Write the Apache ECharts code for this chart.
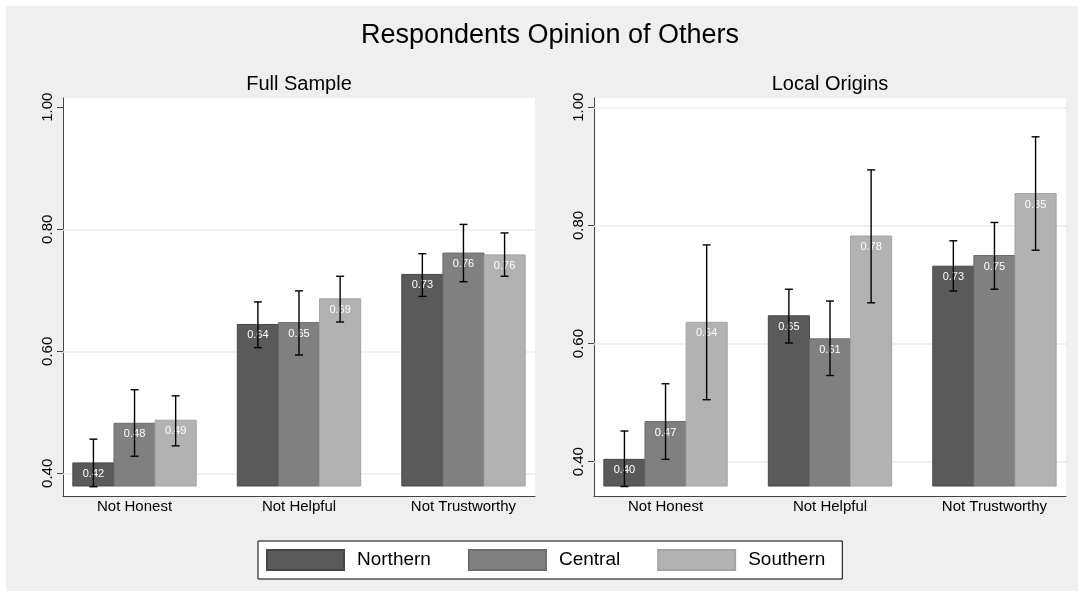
<!DOCTYPE html>
<html><head><meta charset="utf-8">
<script src="https://cdn.jsdelivr.net/npm/echarts@6/dist/echarts.min.js"></script>
<style>
html,body{margin:0;padding:0;background:#fff;}
#bg{position:absolute;left:6px;top:6px;width:1072px;height:585px;background:#efefef;}
#chart{position:absolute;left:0;top:0;width:1084px;height:595px;}
</style></head><body>
<div id="bg"></div><div id="chart"></div>
<script>
// ---- data ----
const chartTitle = 'Respondents Opinion of Others';
const panelTitles = ['Full Sample', 'Local Origins'];
const categories = ['Not Honest', 'Not Helpful', 'Not Trustworthy'];
const regions = ['Northern', 'Central', 'Southern'];
const yTickValues = [0.40, 0.60, 0.80, 1.00];

// Full Sample: means per category
const fullNorthern = [0.417, 0.644, 0.726];
const fullCentral  = [0.482, 0.647, 0.761];
const fullSouthern = [0.487, 0.686, 0.758];
// Full Sample: confidence intervals [low, high]
const fullNorthernCI = [[0.378, 0.456], [0.606, 0.681], [0.690, 0.760]];
const fullCentralCI  = [[0.428, 0.537], [0.594, 0.699], [0.714, 0.808]];
const fullSouthernCI = [[0.445, 0.527], [0.648, 0.723], [0.723, 0.794]];

// Local Origins
const localNorthern = [0.404, 0.647, 0.731];
const localCentral  = [0.468, 0.608, 0.749];
const localSouthern = [0.636, 0.782, 0.854];
const localNorthernCI = [[0.358, 0.452], [0.601, 0.692], [0.689, 0.774]];
const localCentralCI  = [[0.404, 0.532], [0.546, 0.672], [0.692, 0.805]];
const localSouthernCI = [[0.505, 0.767], [0.669, 0.894], [0.758, 0.950]];

// ---- styling ----
const FONT = '"Liberation Sans", Arial, Helvetica, sans-serif';
const fills = ['#5a5a5a', '#808080', '#b2b2b2'];
const strokes = ['#464646', '#6c6c6c', '#a3a3a3'];
const BAR_W = 0.25;

const panels = [
  { means: [fullNorthern, fullCentral, fullSouthern], ci: [fullNorthernCI, fullCentralCI, fullSouthernCI],
    yMin: 0.3628, yMax: 1.0152, base: 0.3792, grid: { left: 63, right: 549, top: 98, bottom: 99 },
    gridLines: [0.40, 0.60, 0.80] },
  { means: [localNorthern, localCentral, localSouthern], ci: [localNorthernCI, localCentralCI, localSouthernCI],
    yMin: 0.342, yMax: 1.0157, base: 0.3589, grid: { left: 594, right: 18, top: 98, bottom: 99 },
    gridLines: [0.40, 0.60, 0.80, 1.00] }
];

function barRenderer(r, base) {
  return function (params, api) {
    const cat = api.value(0), v = api.value(1);
    const cx = cat + (r - 1) * BAR_W;
    const p1 = api.coord([cx - BAR_W / 2, v]);
    const p2 = api.coord([cx + BAR_W / 2, base]);
    const x = p1[0], y = p1[1], w = p2[0] - p1[0], h = p2[1] - p1[1];
    return { type: 'group', children: [
      { type: 'rect', shape: { x: x, y: y, width: w, height: h },
        style: { fill: fills[r], stroke: strokes[r], lineWidth: 1 } },
      { type: 'text', x: x + w / 2, y: y + 11,
        style: { text: v.toFixed(2), fill: '#fff', font: '11px ' + FONT, align: 'center', verticalAlign: 'middle' } }
    ] };
  };
}

function errRenderer(params, api) {
  const cat = api.value(0), r = api.value(1), lo = api.value(2), hi = api.value(3);
  const cx = cat + (r - 1) * BAR_W;
  const a = api.coord([cx, lo]), b = api.coord([cx, hi]);
  const c = 4;
  const st = { stroke: '#000', lineWidth: 1.4 };
  return { type: 'group', children: [
    { type: 'line', shape: { x1: a[0], y1: a[1], x2: b[0], y2: b[1] }, style: st },
    { type: 'line', shape: { x1: a[0] - c, y1: a[1], x2: a[0] + c, y2: a[1] }, style: st },
    { type: 'line', shape: { x1: b[0] - c, y1: b[1], x2: b[0] + c, y2: b[1] }, style: st }
  ] };
}

const grids = [], xAxes = [], yAxes = [], series = [];
panels.forEach(function (p, pi) {
  grids.push(Object.assign({ show: true, backgroundColor: '#fff', borderWidth: 0 }, p.grid));
  xAxes.push({ type: 'value', gridIndex: pi, min: -0.435, max: 2.435,
    axisLine: { show: true, onZero: false, lineStyle: { color: '#444', width: 1 } },
    axisTick: { show: false }, splitLine: { show: false },
    axisLabel: { customValues: [0, 1, 2], formatter: function (v) { return categories[Math.round(v)]; },
      fontSize: 15, color: '#000', fontFamily: FONT, margin: 3 } });
  yAxes.push({ type: 'value', gridIndex: pi, min: p.yMin, max: p.yMax,
    axisLine: { show: true, onZero: false, lineStyle: { color: '#444', width: 1 } },
    axisTick: { show: true, length: 6, customValues: yTickValues, lineStyle: { color: '#444' } },
    splitLine: { show: false },
    axisLabel: { customValues: yTickValues, rotate: 90, margin: 8, formatter: function (v) { return v.toFixed(2); },
      fontSize: 15, color: '#000', fontFamily: FONT } });
  regions.forEach(function (name, r) {
    const s = { type: 'custom', name: name, xAxisIndex: pi, yAxisIndex: pi, z: 2,
      itemStyle: { color: fills[r], borderColor: strokes[r], borderWidth: 1 },
      renderItem: barRenderer(r, p.base),
      data: p.means[r].map(function (v, i) { return [i, v]; }) };
    if (r === 0) {
      s.markLine = { silent: true, symbol: ['none', 'none'], z: 1, animation: false,
        label: { show: false }, lineStyle: { color: '#ebebeb', width: 1.5, type: 'solid' },
        data: p.gridLines.map(function (v) { return { yAxis: v }; }) };
    }
    series.push(s);
  });
  const errData = [];
  regions.forEach(function (name, r) {
    p.ci[r].forEach(function (ci, i) { errData.push([i, r, ci[0], ci[1]]); });
  });
  series.push({ type: 'custom', name: 'ci' + pi, xAxisIndex: pi, yAxisIndex: pi, z: 5,
    renderItem: errRenderer, data: errData });
});

const chart = echarts.init(document.getElementById('chart'), null, { renderer: 'canvas' });
chart.setOption({
  backgroundColor: 'transparent',
  animation: false,
  grid: grids, xAxis: xAxes, yAxis: yAxes, series: series,
  legend: { data: regions, left: 258, top: 541, orient: 'horizontal',
    icon: 'rect', itemWidth: 77, itemHeight: 20, itemGap: 37,
    padding: [8, 17, 8, 8], borderColor: '#000', borderWidth: 1, backgroundColor: '#fff',
    selectedMode: false,
    textStyle: { fontSize: 19, color: '#000', fontFamily: FONT, padding: [0, 0, 0, 8] } },
  graphic: [
    { type: 'text', x: 550, y: 36, style: { text: chartTitle, font: '27px ' + FONT, fill: '#000', align: 'center', verticalAlign: 'middle' } },
    { type: 'text', x: 299, y: 84, style: { text: panelTitles[0], font: '20px ' + FONT, fill: '#000', align: 'center', verticalAlign: 'middle' } },
    { type: 'text', x: 830, y: 84, style: { text: panelTitles[1], font: '20px ' + FONT, fill: '#000', align: 'center', verticalAlign: 'middle' } }
  ]
});
</script></body></html>
